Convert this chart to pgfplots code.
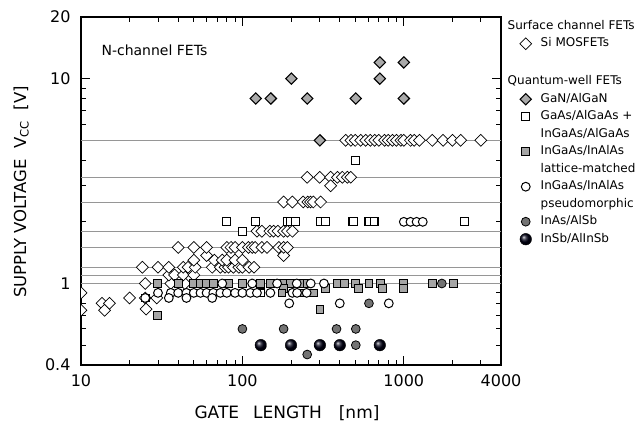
\documentclass[border=0pt]{standalone}
\usepackage{fontspec}
\setmainfont{DejaVu Sans}
\usepackage{pgfplots}
\pgfplotsset{compat=1.18}
\definecolor{gridg}{RGB}{150,150,150}
\definecolor{ganfill}{RGB}{170,170,170}
\definecolor{lmfill}{RGB}{165,165,165}
\definecolor{inasfill}{RGB}{115,115,115}
\pgfplotsset{
 si/.style={only marks, mark=square*, mark size=4.2pt, mark options={rotate=45, fill=white, draw=black, line width=0.7pt}},
 gan/.style={only marks, mark=square*, mark size=4.0pt, mark options={rotate=45, fill=ganfill, draw=black, line width=1.1pt}},
 gaas/.style={only marks, mark=square*, mark size=3.9pt, mark options={fill=white, draw=black, line width=1.1pt}},
 lm/.style={only marks, mark=square*, mark size=3.9pt, mark options={fill=lmfill, draw=black, line width=0.9pt}},
 pm/.style={only marks, mark=*, mark size=4.4pt, mark options={fill=white, draw=black, line width=1.0pt}},
 inas/.style={only marks, mark=*, mark size=4.4pt, mark options={fill=inasfill, draw=black, line width=0.8pt}},
 insb/.style={only marks, mark=ball, mark size=5.8pt, mark options={ball color=black!92!blue}},
}
\begin{document}
\begin{tikzpicture}[x=1pt,y=1pt]
\begin{axis}[
 at={(81pt,72pt)}, anchor=south west,
 scale only axis, width=420pt, height=348pt,
 xmode=log, ymode=log,
 xmin=10, xmax=4000, ymin=0.4, ymax=20,
 xtick={10,100,1000,4000}, xticklabels={10,100,1000,4000},
 minor xtick={20,30,40,50,60,70,80,90,200,300,400,500,600,700,800,900,2000,3000},
 ytick={0.4,1,10,20}, yticklabels={0.4,1,10,20},
 minor ytick={0.5,0.6,0.7,0.8,0.9,2,3,4,5,6,7,8,9},
 major tick length=9pt, minor tick length=5pt,
 tick style={black, line width=1pt},
 axis line style={line width=1.2pt},
 ticklabel style={font=\fontsize{16}{19}\selectfont},
 xticklabel style={yshift=-6pt},
 yticklabel style={xshift=-7pt},
 clip marker paths=true,
 legend style={draw=none, fill=none, at={(1,1)}, anchor=north west, xshift=16pt, yshift=-3pt,
   font=\fontsize{12}{14}\selectfont, row sep=5.5pt, inner sep=0pt,
   nodes={inner sep=0pt, text height=9pt, text depth=3pt},
   /tikz/every odd column/.append style={column sep=9pt}},
 legend cell align=left,
]
\addlegendimage{empty legend}\addlegendentry{\hspace*{-33pt}Surface channel FETs}
\addlegendimage{si}\addlegendentry{Si MOSFETs}
\addlegendimage{empty legend}\addlegendentry[text depth=6pt]{}
\addlegendimage{empty legend}\addlegendentry{\hspace*{-33pt}Quantum-well FETs}
\addlegendimage{gan}\addlegendentry{GaN/AlGaN}
\addlegendimage{gaas}\addlegendentry{GaAs/AlGaAs +}
\addlegendimage{empty legend}\addlegendentry{InGaAs/AlGaAs}
\addlegendimage{lm}\addlegendentry{InGaAs/InAlAs}
\addlegendimage{empty legend}\addlegendentry{lattice-matched}
\addlegendimage{pm}\addlegendentry{InGaAs/InAlAs}
\addlegendimage{empty legend}\addlegendentry{pseudomorphic}
\addlegendimage{inas}\addlegendentry{InAs/AlSb}
\addlegendimage{insb}\addlegendentry{InSb/AlInSb}

% supply voltage reference lines
\addplot[gridg, line width=0.8pt, forget plot] coordinates {(10,5) (4000,5)};
\addplot[gridg, line width=0.8pt, forget plot] coordinates {(10,3.3) (4000,3.3)};
\addplot[gridg, line width=0.8pt, forget plot] coordinates {(10,2.5) (4000,2.5)};
\addplot[gridg, line width=0.8pt, forget plot] coordinates {(10,1.8) (4000,1.8)};
\addplot[gridg, line width=0.8pt, forget plot] coordinates {(10,1.5) (4000,1.5)};
\addplot[gridg, line width=0.8pt, forget plot] coordinates {(10,1.2) (4000,1.2)};
\addplot[gridg, line width=0.8pt, forget plot] coordinates {(10,1.1) (4000,1.1)};
\addplot[gridg, line width=0.8pt, forget plot] coordinates {(10,1.0) (4000,1.0)};

% Si MOSFETs
\addplot[si, forget plot] coordinates {
(10,0.9)(10,0.74)(13.5,0.8)(15,0.8)(14,0.74)(20,0.85)(25,0.85)(25.3,0.75)(29.5,0.85)
(25,1.0)(36,1.0)(44,1.0)
(35,1.1)(38,1.1)(43,1.1)(50,1.1)
(24,1.2)(30,1.2)(35,1.2)(43,1.2)(46,1.2)(51,1.2)(65,1.2)(73,1.2)(78,1.2)(82,1.2)(88,1.2)(95,1.2)(100,1.2)(110,1.2)(118,1.2)
(50,1.3)(67,1.3)(75,1.3)(80,1.3)(90,1.3)(100,1.3)
(60,1.37)(180,1.37)
(40,1.5)(50,1.5)(60,1.5)(80,1.5)(85,1.5)(90,1.5)(100,1.5)(109,1.5)(115,1.5)(120,1.5)(132,1.5)(142,1.5)(168,1.5)(180,1.5)(190,1.5)
(123,1.8)(132,1.8)(148,1.8)(156,1.8)(166,1.8)(180,1.8)(190,1.8)(204,1.8)
(180,2.5)(204,2.5)(238,2.5)(254,2.5)(264,2.5)(275,2.5)(305,2.5)
(252,3.3)(301,3.3)(352,3.3)(388,3.3)(416,3.3)(447,3.3)(469,3.3)(352,3.0)
(436,5)(470,5)(500,5)(540,5)(580,5)(620,5)(660,5)(700,5)(760,5)(800,5)(850,5)(900,5)(960,5)(1000,5)(1100,5)(1160,5)(1250,5)(1500,5)(1750,5)(2000,5)(2250,5)(3000,5)
};
% GaN/AlGaN
\addplot[gan, forget plot] coordinates {
(121,8)(150,8)(201,10)(252,8)(504,8)(710,10)(710,12)(1000,12)(1000,8)(302,5)
};
% GaAs/AlGaAs + InGaAs/AlGaAs
\addplot[gaas, forget plot] coordinates {
(80,2)(120,2)(190,2)(199,2)(213,2)(305,2)(328,2)(480,2)(490,2)(608,2)(654,2)(2371,2)(100,1.8)(500,4)(25,0.85)(129,0.9)
};
% InGaAs/InAlAs lattice-matched
\addplot[lm, forget plot] coordinates {
(29.6,1)(40,1)(50,1)(55,1)(60,1)(66,1)(82,1)(100,1)(129,1)(149,1)(180,1)(199,1)(229,1)(252,1)(388,1)(427,1)(504,1)(608,1)(720,1)(1000,1)(1500,1)(2030,1)
(180,0.945)(328,0.945)(526,0.945)(738,0.945)(1000,0.945)
(176,0.9)(229,0.9)(277,0.9)(29.6,0.7)(302,0.75)
};
% InGaAs/InAlAs pseudomorphic
\addplot[pm, forget plot] coordinates {
(75,1)(115,1)(164,1)(217,1)(265,1)(320,1)
(30,0.9)(36,0.9)(40,0.9)(45,0.9)(50,0.9)(55,0.9)(60,0.9)(66,0.9)(73,0.9)(80,0.9)(90,0.9)(100,0.9)(112,0.9)(123,0.9)(149,0.9)(204,0.9)(218,0.9)(250,0.9)
(25,0.85)(35,0.85)(45,0.85)(65,0.85)
(195,0.8)(401,0.8)(807,0.8)
(1000,2)(1100,2)(1200,2)(1310,2)
};
% InAs/AlSb
\addplot[inas, forget plot] coordinates {
(1720,1)(608,0.8)(100,0.6)(180,0.6)(383,0.6)(504,0.6)(504,0.5)(252,0.45)
};
% InSb/AlInSb
\addplot[insb, forget plot] coordinates {
(130,0.5)(200,0.5)(302,0.5)(401,0.5)(710,0.5)
};
\end{axis}
\node[anchor=west, font=\fontsize{14}{17}\selectfont] at (98pt,387pt) {N-channel FETs};
\node[anchor=base, font=\fontsize{17}{20}\selectfont] at (287pt,19pt) {GATE\hspace{14pt}LENGTH\hspace{17pt}[nm]};
\node[anchor=base, rotate=90, font=\fontsize{16.5}{19}\selectfont] at (26pt,245pt) {SUPPLY\ VOLTAGE\ \ V\textsubscript{CC}\ \ [V]};
\pgfresetboundingbox
\useasboundingbox (0,0) rectangle (639pt,437pt);
\end{tikzpicture}
\end{document}
